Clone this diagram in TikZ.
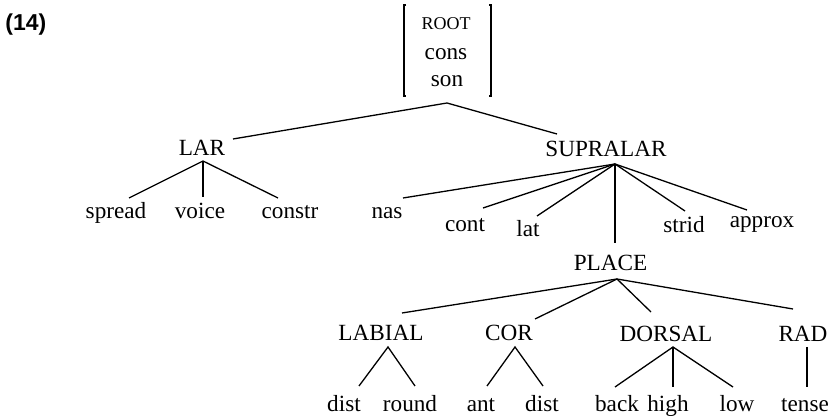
\documentclass[tikz,border=0pt]{standalone}
\usepackage{fontspec}
\setmainfont{Liberation Serif}
\newfontfamily\exfont{Liberation Sans}
\begin{document}
\begin{tikzpicture}[x=0.5pt,y=-0.5pt,
  lbl/.style={font=\fontsize{11.6}{13}\selectfont, inner sep=0pt, anchor=base},
  br/.style={line width=0.8pt},
  ln/.style={line width=0.65pt}]
\useasboundingbox (0,0) rectangle (836,416);
% example number
\node[anchor=base west, inner sep=0pt, font=\exfont\bfseries\fontsize{11.5}{13}\selectfont] (num) at (5,31) {(14)};
% root feature bundle
\node[lbl, font=\fontsize{9}{10}\selectfont] (r1) at (446,30) {ROOT};
\node[lbl] (r2) at (446,60) {cons};
\node[lbl] (r3) at (447,87) {son};
\draw[br] (406,5) -- (404,5) -- (404,96) -- (406,96);
\draw[br] (489,5) -- (491,5) -- (491,96) -- (489,96);
% tier 1
\node[lbl] (lar) at (202,156) {LAR};
\node[lbl] (supra) at (606,157) {SUPRALAR};
% tier 2
\node[lbl] (spread) at (116,219) {spread};
\node[lbl] (voice) at (200,219) {voice};
\node[lbl] (constr) at (290,219) {constr};
\node[lbl] (nas) at (387,219) {nas};
\node[lbl] (cont) at (465,232) {cont};
\node[lbl] (lat) at (528,237) {lat};
\node[lbl] (strid) at (684,233) {strid};
\node[lbl] (approx) at (762,228) {approx};
\node[lbl] (place) at (610.5,271) {PLACE};
% tier 3
\node[lbl] (labial) at (381,341) {LABIAL};
\node[lbl] (cor) at (509,341) {COR};
\node[lbl] (dorsal) at (666,342) {DORSAL};
\node[lbl] (rad) at (803,342) {RAD};
% tier 4
\node[lbl] (distA) at (344,412) {dist};
\node[lbl] (round) at (410,412) {round};
\node[lbl] (ant) at (481,412) {ant};
\node[lbl] (distB) at (542,412) {dist};
\node[lbl] (back) at (617,412) {back};
\node[lbl] (high) at (668,412) {high};
\node[lbl] (low) at (737,412) {low};
\node[lbl] (tense) at (805,412) {tense};
% connectors
\draw[ln] ([shift={(31,-17)}]lar.base) -- ([shift={(0,16)}]r3.base) -- ([shift={(-49,-23)}]supra.base);
\draw[ln] ([shift={(13,-21)}]spread.base) -- ([shift={(1,5)}]lar.base) -- ([shift={(-12,-21)}]constr.base);
\draw[ln] ([shift={(1,5)}]lar.base) -- ([shift={(3,-22)}]voice.base);
\draw[ln] ([shift={(9,7)}]supra.base) -- ([shift={(16,-21)}]nas.base);
\draw[ln] ([shift={(9,7)}]supra.base) -- ([shift={(18,-24)}]cont.base);
\draw[ln] ([shift={(9,7)}]supra.base) -- ([shift={(9,-21)}]lat.base);
\draw[ln] ([shift={(9,7)}]supra.base) -- ([shift={(4.5,-28)}]place.base);
\draw[ln] ([shift={(9,7)}]supra.base) -- ([shift={(1,-22)}]strid.base);
\draw[ln] ([shift={(9,7)}]supra.base) -- ([shift={(-15,-18)}]approx.base);
\draw[ln] ([shift={(6.5,8)}]place.base) -- ([shift={(21,-28)}]labial.base);
\draw[ln] ([shift={(6.5,8)}]place.base) -- ([shift={(26,-22)}]cor.base);
\draw[ln] ([shift={(6.5,8)}]place.base) -- ([shift={(-15,-30)}]dorsal.base);
\draw[ln] ([shift={(6.5,8)}]place.base) -- ([shift={(-10,-33)}]rad.base);
\draw[ln] ([shift={(15,-26)}]distA.base) -- ([shift={(7,6)}]labial.base) -- ([shift={(5,-26)}]round.base);
\draw[ln] ([shift={(6,-26)}]ant.base) -- ([shift={(6,6)}]cor.base) -- ([shift={(1,-26)}]distB.base);
\draw[ln] ([shift={(-2,-25)}]back.base) -- ([shift={(7,5)}]dorsal.base) -- ([shift={(-4,-25)}]low.base);
\draw[ln] ([shift={(7,5)}]dorsal.base) -- ([shift={(5,-25)}]high.base);
\draw[ln] ([shift={(4,5)}]rad.base) -- ([shift={(2,-25)}]tense.base);
\end{tikzpicture}
\end{document}
